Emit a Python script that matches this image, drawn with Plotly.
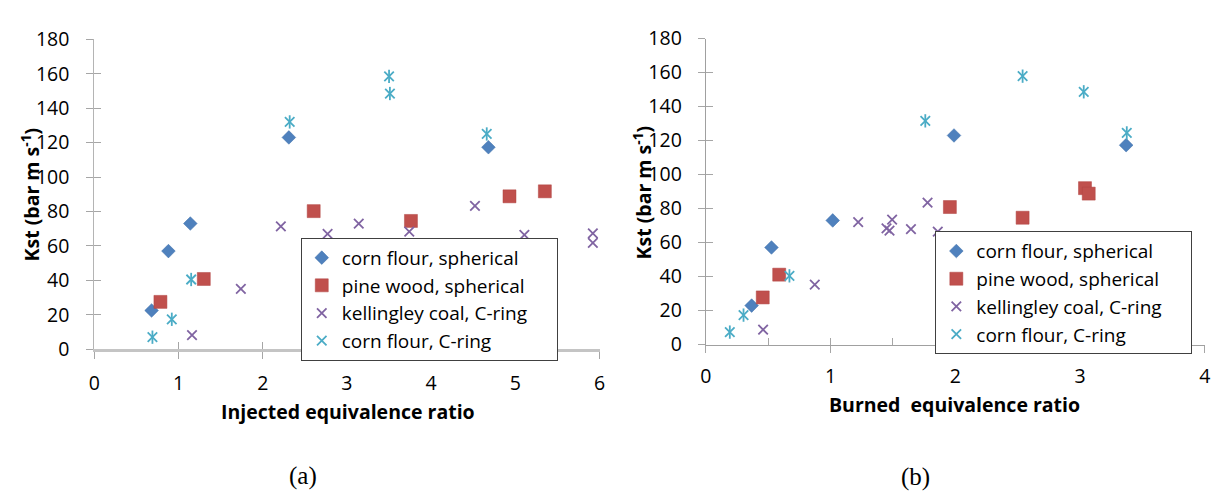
import plotly.graph_objects as go

W, H = 1216, 502

# ---------------- data: (a) injected equivalence ratio ----------------
a_corn_sph_x = [0.68, 0.88, 1.14, 2.31, 4.68]
a_corn_sph_y = [22.5, 57.0, 73.0, 123.0, 117.3]
a_pine_sph_x = [0.785, 1.30, 2.605, 3.76, 4.93, 5.35]
a_pine_sph_y = [27.5, 40.8, 80.2, 74.5, 88.8, 91.7]
a_coal_cr_x = [1.16, 1.74, 2.215, 2.77, 3.14, 3.74, 4.52, 5.107, 5.92, 5.92]
a_coal_cr_y = [8.2, 35.0, 71.4, 67.0, 72.9, 68.3, 83.3, 66.4, 67.3, 61.8]
a_corn_cr_x = [0.69, 0.92, 1.15, 2.32, 3.50, 3.51, 4.66]
a_corn_cr_y = [7.0, 17.4, 40.5, 132.0, 158.4, 148.5, 125.0]

# ---------------- data: (b) burned equivalence ratio ----------------
b_corn_sph_x = [0.368, 0.527, 1.018, 1.99, 3.37]
b_corn_sph_y = [22.9, 57.1, 73.0, 123.0, 117.3]
b_pine_sph_x = [0.457, 0.589, 1.957, 2.54, 3.04, 3.07]
b_pine_sph_y = [27.7, 41.1, 80.9, 74.6, 92.0, 88.8]
b_coal_cr_x = [0.46, 0.874, 1.222, 1.449, 1.473, 1.494, 1.645, 1.778, 1.86, 2.09]
b_coal_cr_y = [8.7, 35.2, 72.0, 68.3, 67.0, 73.5, 67.9, 83.5, 66.4, 61.4]
b_corn_cr_x = [0.193, 0.303, 0.671, 1.76, 2.54, 3.03, 3.375]
b_corn_cr_y = [7.3, 17.3, 40.4, 131.6, 157.9, 148.7, 124.5]

series_names = ["corn flour, spherical", "pine wood, spherical",
                "kellingley coal, C-ring", "corn flour, C-ring"]
x_ticks_a = [0, 1, 2, 3, 4, 5, 6]
x_ticks_b = [0, 1, 2, 3, 4]
y_ticks = [0, 20, 40, 60, 80, 100, 120, 140, 160, 180]

BLUE, RED, PURPLE, CYAN = "#4F81BD", "#C0504D", "#8064A2", "#4BACC6"
FONT = "'Open Sans', 'Noto Sans', sans-serif"
PAD = "\u00a0" * 5  # right padding inside the legend box

fig = go.Figure()


def add_panel(xa, ya, legend, data):
    (cx, cy), (px, py), (kx, ky), (sx, sy) = data
    fig.add_trace(go.Scatter(x=cx, y=cy, mode="markers", name=series_names[0] + PAD,
                             xaxis=xa, yaxis=ya, legend=legend, cliponaxis=False,
                             marker=dict(symbol="diamond", size=10.5, color=BLUE,
                                         line=dict(width=0.5, color="#3A6CA8"))))
    fig.add_trace(go.Scatter(x=px, y=py, mode="markers", name=series_names[1] + PAD,
                             xaxis=xa, yaxis=ya, legend=legend, cliponaxis=False,
                             marker=dict(symbol="square", size=13, color=RED,
                                         line=dict(width=0.5, color="#B04542"))))
    fig.add_trace(go.Scatter(x=kx, y=ky, mode="markers", name=series_names[2] + PAD,
                             xaxis=xa, yaxis=ya, legend=legend, cliponaxis=False,
                             marker=dict(symbol="x-thin", size=9.5, color=PURPLE,
                                         line=dict(width=1.8, color=PURPLE))))
    fig.add_trace(go.Scatter(x=sx, y=sy, mode="markers", name=series_names[3] + PAD,
                             xaxis=xa, yaxis=ya, legend=legend, cliponaxis=False,
                             legendgroup=legend + "cr",
                             marker=dict(symbol="x-thin", size=9.5, color=CYAN,
                                         line=dict(width=1.8, color=CYAN))))
    fig.add_trace(go.Scatter(x=sx, y=sy, mode="markers", name=series_names[3],
                             xaxis=xa, yaxis=ya, legend=legend, cliponaxis=False,
                             legendgroup=legend + "cr", showlegend=False,
                             marker=dict(symbol="line-ns", size=9.5, color=CYAN,
                                         line=dict(width=1.8, color=CYAN))))


add_panel("x", "y", "legend",
          [(a_corn_sph_x, a_corn_sph_y), (a_pine_sph_x, a_pine_sph_y),
           (a_coal_cr_x, a_coal_cr_y), (a_corn_cr_x, a_corn_cr_y)])
add_panel("x2", "y2", "legend2",
          [(b_corn_sph_x, b_corn_sph_y), (b_pine_sph_x, b_pine_sph_y),
           (b_coal_cr_x, b_coal_cr_y), (b_corn_cr_x, b_corn_cr_y)])

# dummy traces for overlay axes (inside tick halves)
fig.add_trace(go.Scatter(x=[None], y=[None], xaxis="x3", yaxis="y3",
                         showlegend=False, hoverinfo="skip"))
fig.add_trace(go.Scatter(x=[None], y=[None], xaxis="x4", yaxis="y4",
                         showlegend=False, hoverinfo="skip"))

px2x = lambda p: p / W
px2y = lambda p: (H - p) / H

dom_xa = [px2x(89.2), px2x(599.5)]
dom_ya = [px2y(354.3), px2y(26.7)]
dom_xb = [px2x(706.7), px2x(1210.7)]
dom_yb = [px2y(349.3), px2y(26.0)]

tickfont = dict(family=FONT, size=19.5, color="#000000")
TICKC = "#A6A6A6"

common = dict(showgrid=False, zeroline=False, ticks="outside", ticklen=7,
              tickwidth=1, tickcolor=TICKC, tickfont=tickfont, showline=True,
              ticklabeloverflow="allow")

legend_common = dict(xanchor="left", yanchor="middle", bgcolor="white",
                     bordercolor="#404040", borderwidth=1,
                     font=dict(family=FONT, size=19, color="#000000"),
                     tracegroupgap=0, itemwidth=30)

fig.update_layout(
    width=W, height=H, paper_bgcolor="white", plot_bgcolor="white",
    margin=dict(l=0, r=0, t=0, b=0), showlegend=True,
    xaxis=dict(domain=dom_xa, range=[0, 6], tickvals=x_ticks_a, anchor="y",
               linecolor="#C4C4C4", linewidth=2.5, ticklabelstandoff=8, **common),
    yaxis=dict(domain=dom_ya, range=[0, 180], tickvals=y_ticks, anchor="x",
               linecolor="#B4B4B4", linewidth=1, ticklabelstandoff=13, **common),
    xaxis2=dict(domain=dom_xb, range=[0, 4], tickvals=x_ticks_b, anchor="y2",
                linecolor="#A0A0A0", linewidth=1, ticklabelstandoff=7, **common),
    yaxis2=dict(domain=dom_yb, range=[0, 180], tickvals=y_ticks, anchor="x2",
                linecolor="#A0A0A0", linewidth=1, ticklabelstandoff=12, **common),
    xaxis3=dict(overlaying="x", anchor="y", range=[0, 6], tickvals=x_ticks_a,
                ticks="inside", ticklen=7, tickcolor=TICKC, showticklabels=False,
                showline=False, showgrid=False, zeroline=False),
    yaxis3=dict(overlaying="y", anchor="x", range=[0, 180], tickvals=y_ticks,
                ticks="inside", ticklen=7, tickcolor=TICKC, showticklabels=False,
                showline=False, showgrid=False, zeroline=False),
    xaxis4=dict(overlaying="x2", anchor="y2", range=[0, 4], dtick=0.5, tick0=0,
                ticks="inside", ticklen=7, tickcolor=TICKC, showticklabels=False,
                showline=False, showgrid=False, zeroline=False),
    yaxis4=dict(overlaying="y2", anchor="x2", range=[0, 180], tickvals=y_ticks,
                ticks="inside", ticklen=7, tickcolor=TICKC, showticklabels=False,
                showline=False, showgrid=False, zeroline=False),
    legend=dict(x=px2x(297.7), y=px2y(301.5), **legend_common),
    legend2=dict(x=px2x(938.6), y=px2y(294.5), **legend_common),
)

ytitle = "Kst (bar m s<sup>-1</sup>)"
TFONT = dict(family=FONT, size=19.5, color="#000000")
annos = [
    dict(text="<b>" + ytitle + "</b>", x=px2x(25), y=px2y(191), textangle=-90,
         font=TFONT),
    dict(text="<b>" + ytitle + "</b>", x=px2x(643), y=px2y(189), textangle=-90,
         font=TFONT),
    dict(text="<b>Injected equivalence ratio</b>", x=px2x(345), y=px2y(420),
         font=TFONT),
    dict(text="<b>Burned  equivalence ratio</b>", x=px2x(958), y=px2y(413),
         font=TFONT),
    dict(text="(a)", x=px2x(300), y=px2y(488),
         font=dict(family="Liberation Serif, Times New Roman, serif", size=25, color="#000000")),
    dict(text="(b)", x=px2x(919), y=px2y(489),
         font=dict(family="Liberation Serif, Times New Roman, serif", size=25, color="#000000")),
]
for a in annos:
    a.update(xref="paper", yref="paper", xanchor="center", yanchor="middle",
             showarrow=False)
    fig.add_annotation(**a)

fig.write_html("out.html", config={"displayModeBar": False},
               post_script="document.body.style.margin='0';"
                           "document.body.style.overflow='hidden';")
